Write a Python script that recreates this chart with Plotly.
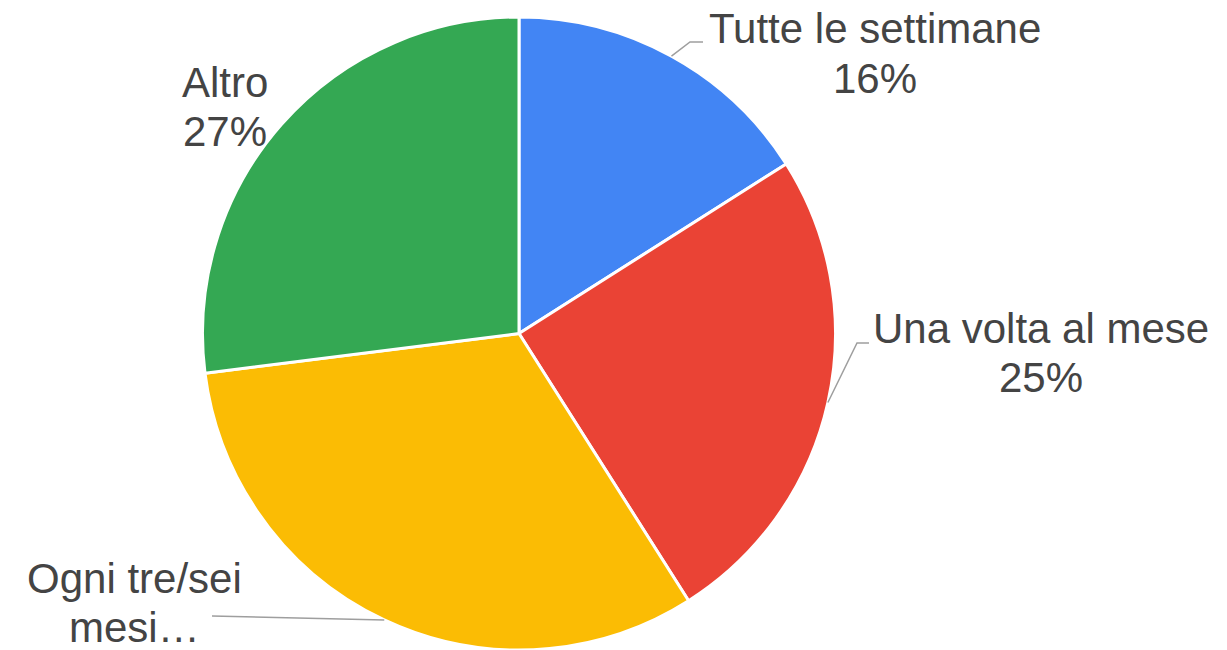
import math
import plotly.graph_objects as go

# Survey answers and their shares (percent)
labels = ["Tutte le settimane", "Una volta al mese", "Ogni tre/sei mesi…", "Altro"]
values = [16, 25, 32, 27]
colors = ["#4285F4", "#EA4335", "#FBBC04", "#34A853"]

# Label text lines as they are shown next to the pie
label_lines = [
    ["Tutte le settimane", "16%"],
    ["Una volta al mese", "25%"],
    ["Ogni tre/sei", "mesi…"],
    ["Altro", "27%"],
]

W, H = 1227, 650
CX, CY, R = 519, 333.5, 316.5  # pie centre / radius in pixels

fig = go.Figure(
    go.Pie(
        labels=labels,
        values=values,
        sort=False,
        direction="clockwise",
        rotation=0,
        marker=dict(colors=colors, line=dict(color="white", width=3)),
        textinfo="none",
        hoverinfo="label+percent",
        domain=dict(x=[CX / W - 0.3, CX / W + 0.3],
                    y=[(H - CY - R) / H, (H - CY + R) / H]),
        showlegend=False,
    )
)


def px_to_paper(x, y):
    return x / W, 1 - y / H


# Mid-angle of each slice, clockwise from 12 o'clock
total = sum(values)
mid_angles = []
acc = 0
for v in values:
    mid_angles.append((acc + v / 2) / total * 2 * math.pi)
    acc += v


def edge_point(theta):
    return CX + R * math.sin(theta), CY - R * math.cos(theta)


# Label placement (pixel centres of each text line) and leader-line elbows
label_pos = [
    (875, [28, 78]),
    (1041, [328, 377]),
    (134, [578, 627]),
    (225, [83, 132]),
]
leaders = [
    [(690, 42), (703, 42)],
    [(857, 343), (869, 343)],
    [(212, 616)],
    None,
]

text_color = "#444444"
annotations = []
for (x, ys), lines in zip(label_pos, label_lines):
    for y, t in zip(ys, lines):
        px, py = px_to_paper(x, y)
        annotations.append(dict(
            x=px, y=py, xref="paper", yref="paper",
            text=t, showarrow=False, xanchor="center", yanchor="middle",
            font=dict(family="Liberation Sans, Arial, sans-serif", size=42, color=text_color),
        ))

shapes = []
for theta, pts in zip(mid_angles, leaders):
    if not pts:
        continue
    path_pts = [edge_point(theta)] + pts
    d = ""
    for i, (x, y) in enumerate(path_pts):
        px, py = px_to_paper(x, y)
        d += ("M" if i == 0 else "L") + f"{px},{py} "
    shapes.append(dict(type="path", xref="paper", yref="paper", path=d.strip(),
                       line=dict(color="#9e9e9e", width=1.5)))

fig.update_layout(
    width=W, height=H,
    margin=dict(l=0, r=0, t=0, b=0),
    paper_bgcolor="white",
    plot_bgcolor="white",
    annotations=annotations,
    shapes=shapes,
)

fig.write_html("out.html")
